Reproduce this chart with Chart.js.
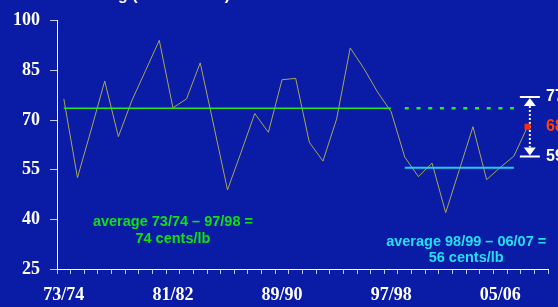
<!doctype html>
<html lang="en">
<head>
    <meta charset="utf-8">
    <title>Coffee price trend</title>
    <script src="https://cdn.jsdelivr.net/npm/chart.js"></script>
    <style>
        html, body {
            margin: 0;
            padding: 0;
            background-color: #0a1ba6;
        }
        .chart-box {
            width: 558px;
            height: 307px;
        }
    </style>
</head>
<body>
    <div class="chart-box"><canvas id="priceChart"></canvas></div>
    <script>
        const seasons = ['73/74', '74/75', '75/76', '76/77', '77/78', '78/79', '79/80', '80/81', '81/82',
            '82/83', '83/84', '84/85', '85/86', '86/87', '87/88', '88/89', '89/90', '90/91', '91/92',
            '92/93', '93/94', '94/95', '95/96', '96/97', '97/98', '98/99', '99/00', '00/01', '01/02',
            '02/03', '03/04', '04/05', '05/06', '06/07', '07/08', '08/09'];
        const shownLabels = ['73/74', '81/82', '89/90', '97/98', '05/06'];

        // cents/lb per season
        const prices = [76.4, 52.6, 67, 81.8, 65, 76, 85, 94.1, 73.7, 76.4, 87.3, 68.2, 48.9, 60.3,
            72, 66.3, 82.2, 82.6, 63.3, 57.6, 70.3, 91.8, 85.6, 78.5, 72.5, 58.8, 52.9, 57, 42,
            55, 68, 52, 55.7, 59.1, 68, null];

        const earlyPeriod = ['73/74', '97/98'];
        const latePeriod = ['98/99', '06/07'];
        const avgEarly = 73.6;
        const avgLate = 55.6;

        const latestSeason = '07/08';
        const latestPrice = 68;
        const rangeHigh = 77;
        const rangeLow = 59;

        const earlyText = ['average 73/74 \u2013 97/98 =', '74 cents/lb'];
        const lateText = ['average 98/99 \u2013 06/07 =', '56 cents/lb'];
        const titleText = 'Coffee Market Trading (US cents/lb)';

        function periodLine(period, value) {
            const a = seasons.indexOf(period[0]);
            const b = seasons.indexOf(period[1]);
            return seasons.map((s, i) => (i >= a && i <= b) ? value : null);
        }

        const overlay = {
            id: 'overlay',
            beforeDatasetsDraw(chart) {
                const ctx = chart.ctx;
                const x = chart.scales.x, y = chart.scales.y;
                const ax = x.getPixelForValue(seasons.indexOf(latestSeason)) + 2.3;
                const yTop = y.getPixelForValue(rangeHigh);
                const yBot = y.getPixelForValue(rangeLow);
                ctx.save();
                ctx.strokeStyle = '#ffffff';
                ctx.fillStyle = '#ffffff';
                // bars
                ctx.lineWidth = 2;
                ctx.beginPath();
                ctx.moveTo(ax - 10, yTop); ctx.lineTo(ax + 10, yTop);
                ctx.moveTo(ax - 10, yBot); ctx.lineTo(ax + 10, yBot);
                ctx.stroke();
                // arrow heads
                ctx.beginPath();
                ctx.moveTo(ax, yTop + 1); ctx.lineTo(ax - 6, yTop + 9); ctx.lineTo(ax + 6, yTop + 9);
                ctx.closePath();
                ctx.moveTo(ax, yBot - 1); ctx.lineTo(ax - 6, yBot - 9); ctx.lineTo(ax + 6, yBot - 9);
                ctx.closePath();
                ctx.fill();
                // dotted shaft
                ctx.setLineDash([2, 2]);
                ctx.beginPath();
                ctx.moveTo(ax, yTop + 9); ctx.lineTo(ax, yBot - 9);
                ctx.stroke();
                ctx.restore();
            },
            afterDraw(chart) {
                const ctx = chart.ctx;
                const x = chart.scales.x, y = chart.scales.y;
                ctx.save();
                ctx.textBaseline = 'middle';
                ctx.font = 'bold 16px "Liberation Sans", Arial, sans-serif';
                ctx.textAlign = 'left';
                const lx = x.getPixelForValue(seasons.indexOf(latestSeason)) + 18.5;
                ctx.fillStyle = '#ffffff';
                ctx.fillText(String(rangeHigh), lx, y.getPixelForValue(rangeHigh));
                ctx.fillText(String(rangeLow), lx, y.getPixelForValue(rangeLow));
                ctx.fillStyle = '#ff4010';
                ctx.fillText(String(latestPrice), lx, y.getPixelForValue(latestPrice));

                ctx.textAlign = 'center';
                ctx.font = 'bold 14.5px "Liberation Sans", Arial, sans-serif';
                ctx.fillStyle = '#10e010';
                const ex = x.getPixelForValue(8);
                ctx.fillText(earlyText[0], ex, y.getPixelForValue(39.3));
                ctx.fillText(earlyText[1], ex, y.getPixelForValue(34));
                ctx.fillStyle = '#22e0f0';
                const lxx = (x.getPixelForValue(29) + x.getPixelForValue(30)) / 2;
                ctx.fillText(lateText[0], lxx, y.getPixelForValue(33.3));
                ctx.fillText(lateText[1], lxx, y.getPixelForValue(28.3));

                // title, mostly above the visible area
                ctx.font = 'bold 16px "Liberation Sans", Arial, sans-serif';
                ctx.textAlign = 'left';
                ctx.textBaseline = 'alphabetic';
                ctx.fillStyle = '#ffffff';
                const pre = ctx.measureText('Coffee Market Tradin').width;
                ctx.fillText(titleText, 118 - pre, 0);
                ctx.restore();
            }
        };

        const tickFont = { family: '"Liberation Serif", "Times New Roman", serif', size: 18, weight: 'bold' };

        const priceChart = new Chart(document.getElementById('priceChart').getContext('2d'), {
            type: 'line',
            data: {
                labels: seasons,
                datasets: [
                    {
                        label: 'latest',
                        data: seasons.map(s => s === latestSeason ? latestPrice : null),
                        showLine: false,
                        pointStyle: 'rect',
                        pointRadius: 4.3,
                        pointBackgroundColor: '#ff2a0a',
                        pointBorderWidth: 0
                    },
                    {
                        label: 'average early',
                        data: periodLine(earlyPeriod, avgEarly),
                        borderColor: '#22e622',
                        borderWidth: 1.5,
                        pointRadius: 0
                    },
                    {
                        label: 'average early (extended)',
                        data: periodLine(latePeriod, avgEarly),
                        borderColor: '#22ee22',
                        borderWidth: 2.5,
                        borderDash: [4, 7.7],
                        pointRadius: 0
                    },
                    {
                        label: 'average late',
                        data: periodLine(latePeriod, avgLate),
                        borderColor: '#25c8ee',
                        borderWidth: 2,
                        pointRadius: 0
                    },
                    {
                        label: 'price',
                        data: prices,
                        borderColor: '#a8a656',
                        borderWidth: 1,
                        tension: 0,
                        pointRadius: 0,
                        spanGaps: false
                    }
                ]
            },
            options: {
                responsive: true,
                maintainAspectRatio: false,
                animation: false,
                devicePixelRatio: 1,
                layout: { padding: { top: 17, right: 10, left: 0, bottom: 0 } },
                plugins: {
                    legend: { display: false },
                    tooltip: { enabled: false }
                },
                scales: {
                    x: {
                        offset: true,
                        afterFit: scale => { scale.height = 38; },
                        grid: {
                            display: true,
                            drawOnChartArea: false,
                            offset: true,
                            tickLength: 5,
                            color: '#c4c8e6'
                        },
                        border: { color: '#ffffff', width: 1 },
                        ticks: {
                            autoSkip: false,
                            maxRotation: 0,
                            padding: 11,
                            color: '#ffffff',
                            font: tickFont,
                            callback: function (value) {
                                const lab = this.getLabelForValue(value);
                                return shownLabels.includes(lab) ? lab : '';
                            }
                        }
                    },
                    y: {
                        min: 25,
                        max: 100,
                        afterFit: scale => { scale.width = 57; },
                        grid: {
                            display: true,
                            drawOnChartArea: false,
                            tickLength: 7,
                            color: '#c4c8e6'
                        },
                        border: { color: '#ffffff', width: 1 },
                        ticks: {
                            stepSize: 15,
                            padding: 10,
                            color: '#ffffff',
                            font: tickFont
                        }
                    }
                }
            },
            plugins: [overlay]
        });
    </script>
</body>
</html>
